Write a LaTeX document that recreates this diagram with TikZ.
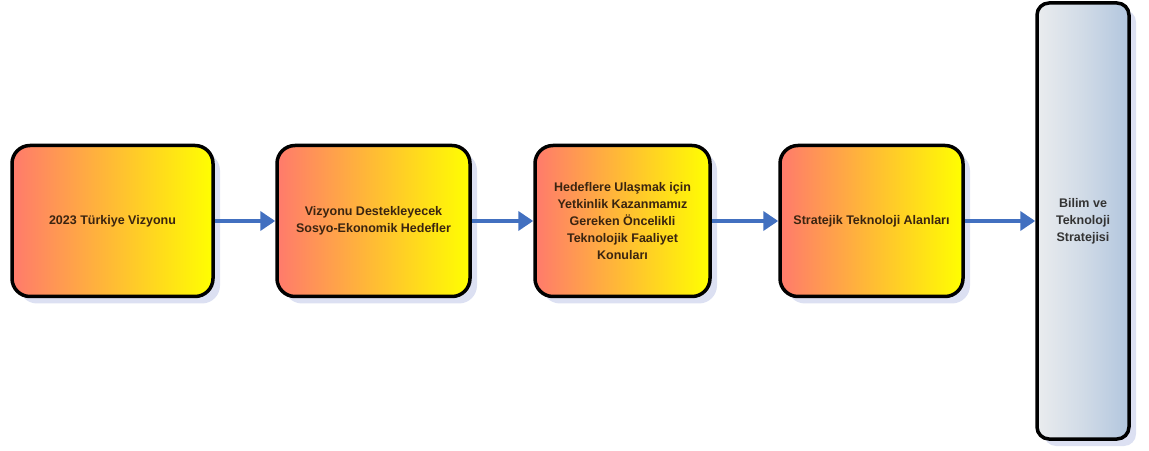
\documentclass[tikz,border=0pt]{standalone}
\usepackage{fontspec}
\setmainfont{Liberation Sans}
\usetikzlibrary{positioning,shadows,arrows.meta}

\definecolor{salmon}{RGB}{255,122,108}
\definecolor{amber}{RGB}{255,188,52}
\definecolor{lemon}{RGB}{255,255,0}
\definecolor{paleslate}{RGB}{234,236,238}
\definecolor{slateblue}{RGB}{178,198,222}
\definecolor{flowblue}{RGB}{66,112,192}
\definecolor{shadowblue}{RGB}{220,224,242}
\definecolor{inkbrown}{RGB}{58,36,16}

\tikzset{
  stage/.style={draw=black, line width=3.5pt, rounded corners=18pt,
    minimum height=151pt, left color=salmon, right color=lemon, middle color=amber,
    drop shadow={shadow xshift=7pt, shadow yshift=-7pt, fill=shadowblue, opacity=1},
    align=center, text=inkbrown, font=\fontsize{12.5}{17}\selectfont\bfseries},
  goal/.style={stage, rounded corners=12pt, left color=paleslate, right color=slateblue,
    middle color=paleslate!55!slateblue, text=black!80},
  flow/.style={-{Triangle[length=15pt,width=19pt]}, line width=4pt, flowblue}
}

\begin{document}
\begin{tikzpicture}[x=1pt,y=1pt]
\useasboundingbox (0,0) rectangle (1149,450);

% stages
\node[stage, minimum width=201pt] (vision) at (112.5,229) {2023 Türkiye Vizyonu};
\node[stage, minimum width=193pt] (targets) at (373.5,229) {Vizyonu Destekleyecek\\Sosyo-Ekonomik Hedefler};
\node[stage, minimum width=175pt] (topics) at (622.5,229) {Hedeflere Ulaşmak için\\Yetkinlik Kazanmamız\\Gereken Öncelikli\\Teknolojik Faaliyet\\Konuları};
\node[stage, minimum width=183pt] (areas) at (871.5,229) {Stratejik Teknoloji Alanları};
\node[goal, minimum width=92pt, minimum height=436pt] (strategy) at (1083,229) {Bilim ve\\Teknoloji\\Stratejisi};

% flow
\draw[flow] (vision) -- (targets);
\draw[flow] (targets) -- (topics);
\draw[flow] (topics) -- (areas);
\draw[flow] (areas) -- (strategy);
\end{tikzpicture}
\end{document}
